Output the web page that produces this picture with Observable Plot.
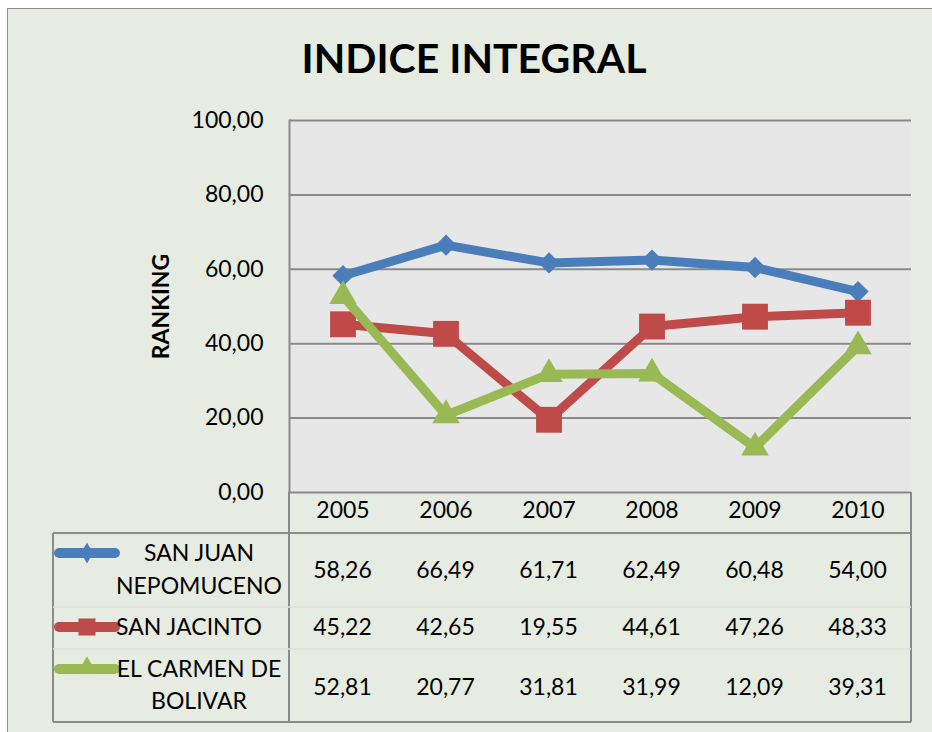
<!DOCTYPE html>
<html><head><meta charset="utf-8">
<script src="https://cdn.jsdelivr.net/npm/d3@7"></script>
<script src="https://cdn.jsdelivr.net/npm/@observablehq/plot@0.6"></script>
<style>
body{margin:0;background:#fff;}
#wrap{position:relative;width:932px;height:732px;overflow:hidden;}
#bg{position:absolute;left:7px;top:8px;width:940px;height:740px;background:#e7ece3;border:1.5px solid #8e8e8e;box-sizing:border-box;}
#chart{position:absolute;left:0;top:0;}
#chart svg{overflow:visible;}
#chart g[aria-label="y-axis label"] text{font-weight:bold;}
</style></head>
<body><div id="wrap"><div id="bg"></div><div id="chart"></div></div>
<script>
const years = ["2005","2006","2007","2008","2009","2010"];
const seriesNames = ["SAN JUAN NEPOMUCENO","SAN JACINTO","EL CARMEN DE BOLIVAR"];
const legendLines = [["SAN JUAN","NEPOMUCENO"],["SAN JACINTO"],["EL CARMEN DE","BOLIVAR"]];
const sanJuan = [58.26,66.49,61.71,62.49,60.48,54.00];
const sanJacinto = [45.22,42.65,19.55,44.61,47.26,48.33];
const elCarmen = [52.81,20.77,31.81,31.99,12.09,39.31];
const yTicks = [0,20,40,60,80,100];
const colors = ["#4a7ebb","#be4b48","#98b954"];
const symbols = ["diamond2","square","triangle"];
const dotR = [9.6,14.6,10.2];

const seriesValues = [sanJuan, sanJacinto, elCarmen];
const fmt = v => v.toFixed(2).replace(".", ",");
const rows = seriesValues.map((vals, i) => years.map((yr, j) => ({year: yr, value: vals[j], series: seriesNames[i]})));

const font = "Lato, 'Open Sans', sans-serif";
const marks = [
  Plot.frame({fill: "#e7e7e7"}),
  Plot.ruleY(yTicks, {stroke: "#8a8a8a", strokeWidth: 2}),
  Plot.frame({anchor: "left", stroke: "#8a8a8a", strokeWidth: 2}),
];
rows.forEach((r, i) => {
  marks.push(Plot.line(r, {x: "year", y: "value", stroke: colors[i], strokeWidth: 9, strokeLinejoin: "round"}));
  marks.push(Plot.dot(r, {x: "year", y: "value", symbol: () => symbols[i], r: dotR[i], fill: colors[i], stroke: "none"}));
});
marks.push(Plot.axisY({ticks: yTicks, tickSize: 0, tickPadding: 26, tickFormat: fmt, label: "RANKING", labelAnchor: "center", labelArrow: "none", labelOffset: 137}));
marks.push(Plot.axisX({tickSize: 0, tickPadding: 9, label: null}));

const plot = Plot.plot({
  width: 932, height: 732,
  marginTop: 120, marginBottom: 240, marginLeft: 289, marginRight: 21,
  style: {fontFamily: font, fontSize: "23px", color: "#000", background: "transparent", overflow: "visible"},
  x: {type: "band", domain: years, padding: 0},
  y: {domain: [0, 100]},
  symbol: {type: "identity"},
  marks
});
document.getElementById("chart").appendChild(plot);

const svg = d3.select(plot);
const xs = plot.scale("x");
const cx = yr => xs.apply(yr) + xs.bandwidth / 2;

// title
svg.append("text").attr("x", 474).attr("y", 73).attr("text-anchor", "middle")
  .attr("font-family", font).attr("font-weight", "bold").attr("font-size", 41).attr("fill", "#000")
  .text("INDICE INTEGRAL");

// table frame
const L = 53, C = 289, R = 911, T = 492, H = 533, B = 722;
const g = svg.append("g").attr("stroke", "#8a8a8a").attr("stroke-width", 2).attr("fill", "none");
[[L, H, R, H], [L, B, R, B], [L, H, L, B], [C, T, C, B], [R, T, R, B]].forEach(([x1, y1, x2, y2]) =>
  g.append("line").attr("x1", x1).attr("y1", y1).attr("x2", x2).attr("y2", y2));
[607, 649].forEach(y => svg.append("line").attr("x1", L).attr("x2", R).attr("y1", y).attr("y2", y)
  .attr("stroke", "#dde2d9").attr("stroke-width", 1.5));

// rows
const valueY = [570, 627, 687];
const keyY = [553, 627, 669];
const textCx = [199, 189, 199];
const textY = [[553, 586], [627], [669, 701]];
const keySym = [d3.symbolDiamond, d3.symbolSquare, d3.symbolTriangle];
const keySize = [130, 290, 150];
seriesValues.forEach((vals, i) => {
  years.forEach((yr, j) => {
    svg.append("text").attr("x", cx(yr)).attr("y", valueY[i]).attr("dy", "0.35em").attr("text-anchor", "middle")
      .attr("font-family", font).attr("font-size", 23).attr("fill", "#000").text(fmt(vals[j]));
  });
  svg.append("line").attr("x1", 59).attr("x2", 115).attr("y1", keyY[i]).attr("y2", keyY[i])
    .attr("stroke", colors[i]).attr("stroke-width", 10).attr("stroke-linecap", "round");
  svg.append("path").attr("d", d3.symbol(keySym[i], keySize[i])()).attr("transform", `translate(87,${keyY[i] + (i === 2 ? -2 : 0)})`)
    .attr("fill", colors[i]);
  legendLines[i].forEach((t, k) => {
    svg.append("text").attr("x", textCx[i]).attr("y", textY[i][k]).attr("dy", "0.35em").attr("text-anchor", "middle")
      .attr("font-family", font).attr("font-size", 23).attr("fill", "#000").text(t);
  });
});
</script>
</body></html>
